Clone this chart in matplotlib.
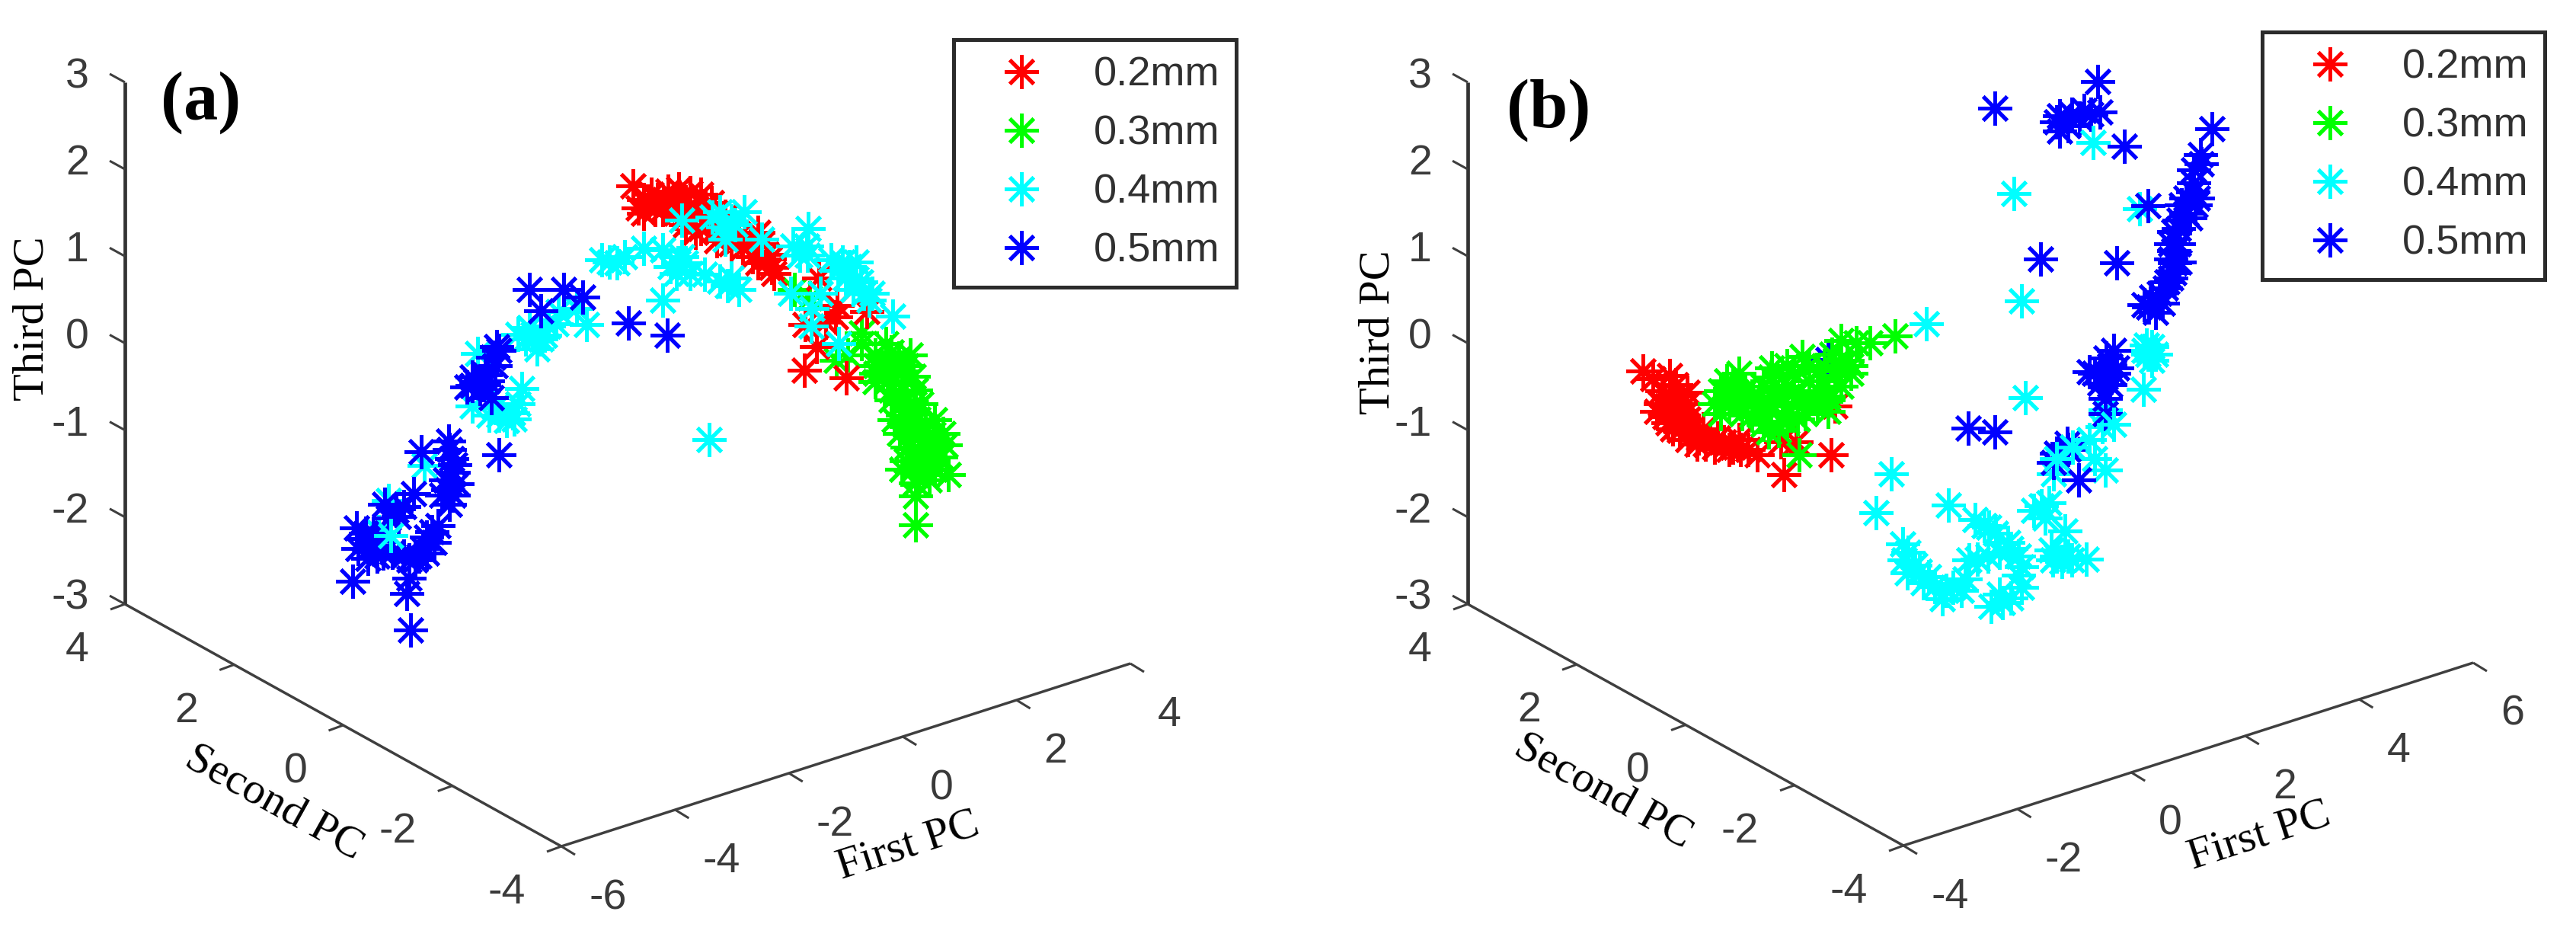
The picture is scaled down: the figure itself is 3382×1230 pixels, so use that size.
import matplotlib
matplotlib.use("Agg")
import numpy as np
import matplotlib.pyplot as plt

# only the projected position of each point can be read off the picture,
# so the points are kept as (horizontal, vertical) on the view plane
series_labels = ["0.2mm", "0.3mm", "0.4mm", "0.5mm"]
series_colors = ["#ff0000", "#00ff00", "#00ffff", "#0000ff"]

a_02_h = [831, 838, 852, 863, 877, 891, 906, 920, 888, 913, 934, 952, 913, 941, 970, 988, 1006, 1013, 1016, 1075, 1099, 1097, 1057, 1084, 1072, 1056, 1111, 1138, 995, 845, 870, 900,
          845, 860, 875, 895, 905, 925, 930, 900, 885, 855, 920, 950, 960, 975, 995, 1000, 1010, 985, 940]
a_02_v = [244, 273, 266, 262, 251, 248, 253, 255, 280, 284, 266, 284, 305, 316, 309, 337, 334, 351, 359, 365, 401, 416, 426, 423, 455, 486, 496, 409, 305, 280, 275, 265,
          262, 275, 268, 268, 275, 270, 295, 295, 265, 255, 300, 300, 320, 325, 345, 320, 340, 315, 300]

a_03_h = [1043, 1131, 1113, 1149, 1170, 1195, 1159, 1184, 1199, 1149, 1170, 1202, 1181, 1209, 1174, 1195, 1227, 1181, 1209, 1238, 1191, 1220, 1241, 1184, 1209, 1245, 1227, 1202, 1202, 1202, 1220, 1131, 1163, 1063, 1098,
          1150, 1165, 1180, 1190, 1165, 1185, 1150, 1170, 1190, 1200, 1185, 1205, 1215, 1190, 1225, 1200, 1215, 1230, 1200, 1190, 1215, 1235, 1205, 1220, 1200]
a_03_v = [380, 437, 466, 466, 462, 466, 487, 487, 494, 501, 512, 512, 530, 530, 551, 551, 551, 569, 569, 569, 587, 587, 584, 616, 609, 623, 616, 634, 651, 689, 630, 451, 451, 391, 473,
          480, 475, 470, 480, 500, 505, 490, 525, 525, 530, 545, 550, 560, 560, 570, 575, 585, 600, 595, 605, 605, 600, 625, 610, 615]

a_04_h = [790, 800, 820, 845, 870, 895, 945, 977, 949, 952, 1000, 895, 888, 906, 945, 970, 870, 770, 1061, 1059, 1041, 1106, 1124, 1124, 1134, 1141, 1172, 1038, 1077, 1066, 1065, 1101, 931, 1091, 757, 733, 700, 680, 705, 720, 627, 685, 673, 642, 665, 620, 557, 510, 497,
          1060, 1050, 1100, 1115, 1130, 1120, 1145, 1110, 890, 900, 880, 925, 955, 960, 960, 965, 935, 690, 710, 695, 715, 730, 810, 655, 650, 680, 675]
a_04_v = [341, 344, 337, 326, 328, 289, 278, 278, 298, 314, 314, 337, 359, 359, 369, 380, 394, 426, 300, 323, 323, 344, 344, 366, 385, 394, 415, 385, 385, 405, 428, 451, 577, 341, 405, 409, 439, 439, 458, 428, 464, 510, 542, 545, 552, 533, 611, 657, 698,
          335, 335, 355, 350, 370, 380, 385, 365, 345, 345, 350, 360, 375, 365, 290, 295, 285, 445, 445, 430, 440, 425, 345, 545, 535, 530, 550]
a_04_front_h = [513]
a_04_front_v = [703]

a_05_h = [695, 740, 765, 710, 825, 876, 652, 647, 620, 613, 637, 645, 625, 655, 589, 593, 595, 588, 590, 553, 505, 543, 523, 567, 570, 550, 560, 468, 477, 483, 503, 537, 463, 537, 534, 539,
          590, 597, 585, 600, 580, 595, 575, 560, 555, 545, 530, 515, 495, 470, 480, 495, 620, 635, 650, 655, 630, 640, 530, 520, 510, 490]
a_05_v = [380, 380, 390, 408, 424, 440, 455, 469, 506, 508, 492, 522, 501, 597, 579, 602, 620, 643, 662, 593, 662, 648, 678, 698, 712, 730, 726, 693, 707, 733, 726, 735, 763, 759, 779, 827,
          590, 610, 630, 635, 650, 650, 690, 705, 720, 735, 730, 725, 730, 720, 700, 710, 495, 505, 480, 460, 510, 500, 665, 670, 680, 700]

b_02_h = [2157, 2192, 2182, 2188, 2186, 2196, 2216, 2239, 2263, 2283, 2216, 2236, 2204, 2307, 2342, 2404, 2409, 2338, 2358, 2228, 2251, 2275, 2200, 2215,
          2170, 2200, 2195, 2200, 2210, 2190, 2205, 2220, 2230, 2245, 2255, 2270, 2285, 2295, 2180, 2175, 2215]
b_02_v = [487, 493, 513, 533, 547, 563, 577, 583, 580, 577, 550, 563, 520, 597, 623, 597, 533, 580, 580, 583, 587, 587, 540, 530,
          497, 505, 520, 535, 545, 555, 565, 565, 575, 575, 575, 590, 590, 590, 530, 540, 515]

b_03_h = [2362, 2488, 2417, 2437, 2455, 2425, 2366, 2346, 2326, 2283, 2267, 2259, 2251, 2259, 2291, 2315, 2346, 2386, 2409, 2417, 2386, 2307, 2346, 2386, 2287, 2315, 2346, 2370, 2322, 2275, 2330, 2400,
          2275, 2275, 2270, 2285, 2300, 2300, 2310, 2325, 2325, 2325, 2340, 2340, 2340, 2355, 2355, 2360, 2360, 2375, 2375, 2375, 2395, 2395, 2400, 2400, 2415, 2430, 2405, 2335, 2310, 2430]
b_03_v = [597, 441, 447, 450, 450, 473, 468, 480, 483, 490, 500, 513, 530, 543, 513, 507, 507, 487, 493, 507, 513, 533, 533, 533, 543, 557, 553, 543, 567, 525, 520, 525,
          505, 520, 530, 530, 520, 545, 520, 495, 520, 540, 495, 520, 545, 490, 515, 530, 550, 480, 500, 520, 480, 500, 520, 540, 480, 480, 465, 565, 545, 490]

b_04_h = [2529, 2644, 2654, 2659, 2809, 2818, 2814, 2764, 2696, 2680, 2711, 2693, 2707, 2739, 2483, 2463, 2558, 2593, 2611, 2636, 2596, 2654, 2654, 2629, 2614, 2564, 2550, 2532, 2514, 2504, 2498, 2750, 2764,
          2505, 2500, 2520, 2525, 2540, 2555, 2575, 2580, 2625, 2640, 2650, 2650, 2640, 2620, 2605, 2585, 2610, 2625, 2700, 2715, 2720, 2690, 2670, 2685, 2695, 2825, 2820, 2830, 2815, 2760]
b_04_v = [425, 254, 395, 522, 274, 453, 511, 538, 622, 664, 697, 722, 737, 734, 622, 673, 663, 682, 692, 712, 734, 744, 771, 791, 796, 771, 786, 757, 742, 752, 714, 602, 617,
          725, 735, 750, 765, 770, 775, 775, 760, 780, 785, 755, 730, 720, 700, 690, 735, 730, 725, 730, 730, 735, 660, 670, 680, 735, 455, 465, 465, 460, 560]
b_04_front_h = [2748, 2700, 2721, 2743, 2775, 2825]
b_04_front_v = [187, 602, 587, 577, 557, 473]

b_05_h = [2619, 2754, 2704, 2704, 2736, 2757, 2789, 2904, 2889, 2880, 2879, 2882, 2864, 2861, 2875, 2854, 2854, 2861, 2854, 2843, 2821, 2839, 2820, 2679, 2779, 2775, 2779, 2743, 2757, 2764, 2764, 2714, 2696, 2729, 2584, 2619,
          2890, 2880, 2885, 2870, 2870, 2860, 2850, 2860, 2850, 2855, 2850, 2835, 2825, 2830, 2815, 2845, 2765, 2770, 2750, 2760, 2775, 2770, 2700, 2720, 2745, 2715, 2730, 2700, 2715]
b_05_v = [142, 107, 152, 172, 145, 147, 192, 169, 203, 223, 252, 269, 269, 289, 286, 304, 329, 344, 358, 378, 403, 398, 270, 340, 345, 460, 483, 488, 503, 523, 543, 582, 607, 630, 562, 567,
          215, 240, 260, 260, 280, 300, 320, 320, 340, 345, 365, 385, 390, 410, 400, 370, 470, 480, 490, 495, 490, 505, 160, 150, 150, 165, 155, 595, 590]
b_05_back_h = [2400]
b_05_back_v = [472]

tick_first_a = [-6, -4, -2, 0, 2, 4]
tick_first_b = [-4, -2, 0, 2, 4, 6]
tick_second = [4, 2, 0, -2, -4]
tick_third = [3, 2, 1, 0, -1, -2, -3]

TICK_COLOR = "#3a3a3a"
AXIS_COLOR = "#3f3f3f"
SANS = "Liberation Sans"
SERIF = "Liberation Serif"
STAR = (8, 2, 0)


def make_projection(first_lim, second_lim, third_lim, vertex, right_end, left_end, top_end):
    # vertex = (first min, second min, third min) as seen in the picture
    vertex = np.array(vertex, dtype=float)
    first_step = (np.array(right_end) - vertex) / (first_lim[1] - first_lim[0])
    second_step = (np.array(left_end) - vertex) / (second_lim[1] - second_lim[0])
    third_step = (np.array(top_end) - np.array(left_end)) / (third_lim[1] - third_lim[0])

    def project(first, second, third):
        return (vertex
                + first_step * (first - first_lim[0])
                + second_step * (second - second_lim[0])
                + third_step * (third - third_lim[0]))
    return project


def draw_box(ax, project, first_lim, second_lim, third_lim, first_ticks):
    f0, f1 = first_lim
    s0, s1 = second_lim
    t0, t1 = third_lim

    def segment(p, q, lw, color=AXIS_COLOR):
        ax.plot([p[0], q[0]], [p[1], q[1]], color=color, lw=lw, solid_capstyle="butt", zorder=1)

    segment(project(f0, s0, t0), project(f1, s0, t0), 2.5)
    segment(project(f0, s0, t0), project(f0, s1, t0), 2.5)
    segment(project(f0, s1, t0), project(f0, s1, t1), 3.4, "#333333")

    for val in first_ticks:
        p = project(val, s0, t0)
        segment(p, p + np.array([18, 11]), 2.2)
        ax.text(p[0] + 36, p[1] + 82, str(val), family=SANS, fontsize=40, color=TICK_COLOR, ha="left", va="baseline")
    for val in tick_second:
        p = project(f0, val, t0)
        segment(p, p + np.array([-19, 7]), 2.2)
        ax.text(p[0] - 47, p[1] + 75, str(val), family=SANS, fontsize=40, color=TICK_COLOR, ha="right", va="baseline")
    for val in tick_third:
        p = project(f0, s1, val)
        segment(p, p + np.array([-20, -11]), 2.2)
        ax.text(p[0] - 47, p[1] + 7, str(val), family=SANS, fontsize=40, color=TICK_COLOR, ha="right", va="baseline")


def draw_stars(ax, h, v, color, zorder, label=None):
    line, = ax.plot(h, v, linestyle="none", marker=STAR, markersize=32, markeredgewidth=3.6,
                    color=color, zorder=zorder, label=label)
    return line


def draw_legend(ax, handles, left, top):
    leg = ax.legend(handles, series_labels, loc="upper left", bbox_to_anchor=(left, top),
                    bbox_transform=ax.transData, borderaxespad=0, fancybox=False, framealpha=1,
                    edgecolor="#2b2b2b", numpoints=1, handlelength=2.5, handletextpad=0.5,
                    borderpad=0.4, labelspacing=0.5, prop={"family": SANS, "size": 39})
    leg.get_frame().set_linewidth(3.6)
    for text in leg.get_texts():
        text.set_color("#303030")


fig = plt.figure(figsize=(33.82, 12.30), dpi=100)
ax_a = fig.add_axes([0, 0, 0.5, 1])
ax_b = fig.add_axes([0.5, 0, 0.5, 1])
ax_a.set_xlim(0, 1691)
ax_b.set_xlim(1691, 3382)
for ax in (ax_a, ax_b):
    ax.set_ylim(1230, 0)
    ax.axis("off")

first_lim_a = (-6, 4)
first_lim_b = (-4, 6)
second_lim = (-4, 4)
third_lim = (-3, 3)

project_a = make_projection(first_lim_a, second_lim, third_lim, (737, 1111), (1484, 871), (164, 793), (164, 108))
project_b = make_projection(first_lim_b, second_lim, third_lim, (2499, 1110), (3247, 870), (1927, 793), (1927, 108))
draw_box(ax_a, project_a, first_lim_a, second_lim, third_lim, tick_first_a)
draw_box(ax_b, project_b, first_lim_b, second_lim, third_lim, tick_first_b)

# panel a: green sits below red
green_a = draw_stars(ax_a, a_03_h, a_03_v, series_colors[1], 2)
red_a = draw_stars(ax_a, a_02_h, a_02_v, series_colors[0], 2.1)
cyan_a = draw_stars(ax_a, a_04_h, a_04_v, series_colors[2], 2.2)
blue_a = draw_stars(ax_a, a_05_h, a_05_v, series_colors[3], 2.3)
draw_stars(ax_a, a_04_front_h, a_04_front_v, series_colors[2], 2.4)
draw_legend(ax_a, [red_a, green_a, cyan_a, blue_a], 1252, 52)

draw_stars(ax_b, b_05_back_h, b_05_back_v, series_colors[3], 1.9)
red_b = draw_stars(ax_b, b_02_h, b_02_v, series_colors[0], 2)
green_b = draw_stars(ax_b, b_03_h, b_03_v, series_colors[1], 2.1)
cyan_b = draw_stars(ax_b, b_04_h, b_04_v, series_colors[2], 2.2)
blue_b = draw_stars(ax_b, b_05_h, b_05_v, series_colors[3], 2.3)
draw_stars(ax_b, b_04_front_h, b_04_front_v, series_colors[2], 2.4)
draw_legend(ax_b, [red_b, green_b, cyan_b, blue_b], 2970, 42)

# axis names and panel letters
label_style = dict(family=SERIF, fontsize=42, color="black", ha="center", va="center", rotation_mode="anchor")
ax_a.text(43, 418, "Third PC", rotation=90, **label_style)
ax_a.text(360, 1054, "Second PC", rotation=-29, **label_style)
ax_a.text(1192, 1110, "First PC", rotation=18, **label_style)
ax_b.text(1810, 436, "Third PC", rotation=90, **label_style)
ax_b.text(2105, 1039, "Second PC", rotation=-29, **label_style)
ax_b.text(2966, 1097, "First PC", rotation=18, **label_style)
ax_a.text(264, 135, "(a)", family=SERIF, fontweight="bold", fontsize=65, ha="center", va="center")
ax_b.text(2033, 145, "(b)", family=SERIF, fontweight="bold", fontsize=65, ha="center", va="center")

fig.savefig("out.png", dpi=100)
